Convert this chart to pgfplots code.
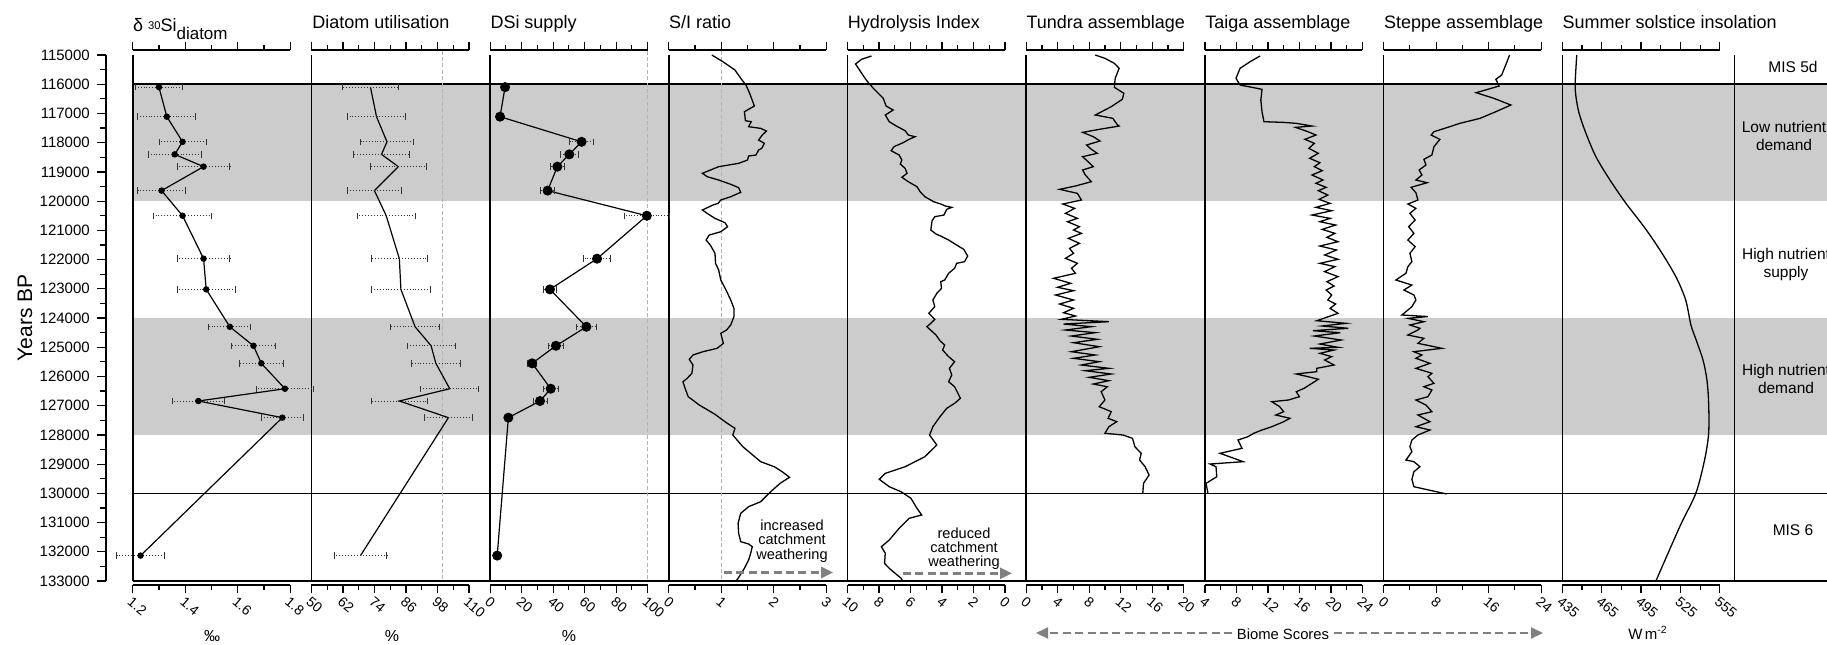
\documentclass[border=0pt]{standalone}
\usepackage{fontspec}
\setmainfont{Liberation Sans}
\usepackage{pgfplots}
\usepackage{pgfplotstable}
\pgfplotsset{compat=1.18}
\usetikzlibrary{arrows.meta}

\newcommand{\tf}{\fontsize{9}{10}\selectfont}
\newcommand{\tkf}{\fontsize{7.5}{8}\selectfont}
\newcommand{\xtkf}{\fontsize{7}{7.5}\selectfont}
\newcommand{\scalelines}{\draw[line width=0.8pt] (rel axis cs:0,0) -- (rel axis cs:1,0); \draw[line width=0.8pt] (rel axis cs:0,1) -- (rel axis cs:1,1);}

\tikzset{refline/.style={black!30, line width=0.5pt, dash pattern=on 2pt off 1.2pt}}
\pgfplotsset{
  every axis/.append style={/pgf/number format/assume math mode=true},
  panel/.style={
    scale only axis, width=78.75pt, height=267.5pt,
    ymin=114828.9, ymax=133136.9, y dir=reverse,
    anchor=south west, clip=false,
    scaled x ticks=false, scaled y ticks=false,
    axis line style={draw=none},
    ytick=\empty,
    xtick pos=both, xticklabel pos=lower,
    tick align=outside,
    major tick length=4.2pt, minor tick length=2.4pt,
    tick style={black, line width=0.6pt},
    xticklabel style={rotate=-40, anchor=north west, font=\xtkf, inner sep=0.8pt},
  },
  curve/.style={black, line width=0.65pt, mark=none},
}

% ---------------- data ----------------
\pgfplotstableread{
yr v e
116100 1.30 0.09
117110 1.33 0.11
117970 1.39 0.09
118400 1.36 0.10
118820 1.47 0.10
119640 1.31 0.09
120500 1.39 0.11
121970 1.47 0.10
123020 1.48 0.11
124300 1.57 0.08
124950 1.66 0.085
125550 1.69 0.083
126420 1.78 0.11
126840 1.45 0.10
127410 1.77 0.08
132130 1.23 0.09
}\siso

\pgfplotstableread{
yr v e
116100 72.5 10.5
117110 74.8 11
117970 78.8 10
118400 76.7 10.5
118820 83.1 10.6
119640 74.0 10.4
120500 78.5 11
121970 83.5 10.6
123020 84.1 11.3
124300 89.5 9.3
124950 95.6 9.2
125550 97.4 9.3
126420 102.7 11
126840 83.5 10.6
127410 102.2 9.2
132130 68.7 10
}\util

\pgfplotstableread{
yr v e
116100 9.5 0
117110 6.3 0
117970 58.1 7.5
118400 50.3 5.5
118820 42.7 4.5
119640 36.5 4.5
120500 99.5 14.5
121970 67.9 8.8
123020 38.0 4
124300 61.1 6.3
124950 41.8 4.5
125550 26.7 3
126420 38.5 4.8
126840 31.7 4.4
127410 11.6 0
132130 4.5 0
}\dsi

\pgfplotstableread{
yr v
115000 0.82
115229 1.03
115513 1.26
115797 1.37
116027 1.47
116311 1.54
116745 1.63
116940 1.44
117248 1.46
117282 1.57
117453 1.52
117510 1.75
117601 1.86
117738 1.78
117909 1.71
118023 1.82
118194 1.77
118251 1.71
118422 1.66
118456 1.52
118593 1.50
118707 1.33
118821 0.95
119048 0.64
119163 0.73
119278 0.95
119425 1.18
119539 1.33
119699 1.37
119848 1.18
119962 0.99
120076 0.94
120134 0.84
120304 0.64
120419 0.73
120590 0.88
120739 1.07
120876 1.12
121047 0.99
121160 0.77
121331 0.71
121502 0.79
121786 0.88
122128 0.89
122357 0.95
122700 0.99
123042 1.09
123384 1.18
123668 1.24
123955 1.24
124239 1.18
124410 1.10
124524 0.99
124866 1.04
125037 0.92
125153 0.65
125266 0.46
125414 0.39
125608 0.46
125893 0.44
126064 0.35
126180 0.27
126405 0.31
126693 0.37
126977 0.58
127295 0.88
127549 1.07
127775 1.26
128004 1.22
128404 1.41
128917 1.75
129089 2.01
129260 2.16
129451 2.30
129657 2.12
129944 1.94
130286 1.75
130457 1.52
130683 1.37
131025 1.32
131368 1.33
131653 1.37
131733 1.52
131825 1.59
132051 1.56
132281 1.52
132565 1.44
132907 1.32
133000 1.28
}\sitab

\pgfplotstableread{
yr v
115034 8.48
115148 9.11
115308 9.49
115513 9.24
115856 8.81
116140 8.36
116482 7.73
116745 7.55
116882 7.10
117053 7.60
117282 7.35
117430 6.90
117590 6.34
117738 6.14
117795 5.71
117885 6.09
118000 6.47
118137 7.05
118274 7.23
118422 6.72
118593 6.55
118730 6.65
118878 6.34
119048 6.22
119185 6.55
119335 6.14
119506 5.59
119677 5.39
119848 5.09
120020 4.53
120099 4.08
120167 3.78
120213 3.38
120281 3.70
120476 3.88
120533 4.46
120670 4.63
120989 4.71
121126 4.38
121194 4.08
121331 3.58
121502 3.07
121650 2.62
121878 2.37
122073 2.57
122128 3.07
122299 3.20
122470 3.58
122700 3.83
122757 4.08
122984 4.03
123155 4.33
123384 4.58
123612 4.46
123840 4.84
124045 4.46
124182 4.71
124297 4.96
124582 4.38
124776 4.13
124924 3.83
125095 3.96
125323 3.58
125494 3.20
125722 3.53
125950 3.38
126180 3.58
126351 3.20
126748 2.83
126919 3.20
127090 3.70
127377 4.13
127719 4.58
128004 4.79
128346 4.33
128746 5.09
129089 6.34
129315 7.60
129520 7.98
129773 7.35
129944 6.60
130170 5.97
130512 5.59
130741 5.29
130855 6.09
131197 6.72
131597 7.35
131825 7.85
132051 7.60
132394 7.65
132565 7.35
132907 6.60
133000 6.50
}\hitab

\pgfplotstableread{
yr v
115000 8.77
115114 10.0
115285 11.2
115456 11.8
115797 11.3
116106 11.2
116311 12.4
116516 12.2
116768 10.8
117053 8.77
117167 11.0
117361 11.5
117430 11.8
117544 9.27
117647 7.16
117795 8.52
117943 9.37
118080 7.66
118227 8.27
118364 9.02
118479 7.16
118627 7.76
118821 8.52
118935 7.16
119106 7.51
119335 8.27
119483 6.25
119597 4.24
119734 6.50
119962 7.01
120099 4.65
120247 6.15
120419 4.99
120590 6.50
120704 5.24
120876 6.76
120989 6.01
121103 7.01
121274 5.35
121445 6.76
121616 5.50
121786 6.01
121957 4.99
122128 6.50
122299 5.75
122470 6.25
122641 3.48
122813 5.65
122949 3.99
123065 6.01
123213 3.73
123384 6.01
123521 4.24
123668 6.01
123818 4.74
123931 6.25
124045 4.49
124126 10.5
124205 4.74
124297 8.27
124410 4.99
124502 8.77
124616 5.75
124729 9.02
124845 6.01
124982 9.27
125153 5.75
125266 8.77
125379 6.01
125494 9.27
125608 7.01
125722 10.5
125803 7.51
125916 10.8
126029 8.01
126146 10.5
126259 8.52
126351 10.3
126522 9.52
126806 10.0
127035 9.27
127206 10.8
127432 10.4
127549 11.5
127719 10.5
127945 10.0
128004 12.3
128117 13.5
128404 13.8
128630 14.6
128859 14.4
129089 15.1
129373 15.6
129657 14.9
130000 14.8
}\tundra

\pgfplotstableread{
yr v
115034 11.0
115229 9.73
115456 8.46
115797 7.95
116027 8.46
116106 9.98
116174 11.25
116540 11.1
116940 11.25
117282 11.5
117305 14.0
117339 15.6
117430 17.6
117476 15.5
117625 17.1
117738 18.1
117885 16.7
118023 17.9
118194 17.2
118364 18.4
118535 17.3
118685 18.6
118821 17.9
118958 18.9
119106 17.6
119278 19.0
119391 18.1
119528 19.4
119643 18.4
119791 19.6
119939 18.5
120076 19.9
120213 18.1
120328 20.1
120476 17.6
120590 19.9
120704 18.6
120818 20.6
120966 18.9
121103 20.5
121240 19.5
121389 20.9
121536 18.6
121673 20.7
121844 19.2
121991 20.9
122128 18.6
122242 20.5
122413 19.2
122584 20.9
122757 19.5
122905 20.4
123042 19.4
123213 20.1
123384 19.6
123521 20.6
123668 19.9
123840 20.9
124093 18.2
124182 21.9
124273 18.9
124352 22.2
124434 17.7
124502 21.2
124616 17.9
124753 21.3
124890 18.6
125003 20.9
125037 17.3
125095 20.4
125208 18.6
125323 20.1
125437 19.2
125608 20.4
125722 18.2
125837 18.2
125893 16.3
125916 15.6
126008 17.1
126097 18.4
126234 17.6
126405 16.6
126522 15.6
126693 16.0
126806 14.6
126864 12.5
127035 13.5
127206 14.0
127319 13.0
127432 14.8
127549 14.0
127719 12.5
127832 11.25
127945 10.2
128061 9.47
128175 8.20
128459 8.71
128630 5.92
128917 8.86
128996 4.65
129089 5.41
129431 5.51
129657 4.14
130000 4.39
}\taiga

\pgfplotstableread{
yr v
115000 19.2
115342 18.6
115684 18.0
115831 17.1
116061 17.6
116290 14.1
116482 16.8
116711 19.4
116940 17.1
117167 14.7
117339 11.6
117430 10.4
117625 7.67
117738 7.24
117885 8.58
118137 7.67
118422 7.36
118569 6.14
118764 6.45
118935 5.41
119106 5.84
119278 4.92
119370 6.63
119528 4.19
119712 4.92
119962 5.23
120099 3.70
120247 4.92
120419 4.01
120646 4.80
120876 3.82
121103 4.62
121331 3.70
121559 4.80
121786 4.01
122073 4.31
122242 3.70
122470 3.40
122700 1.87
122871 4.31
123042 3.09
123213 4.62
123384 4.92
123612 4.31
123897 2.79
123950 6.75
124011 3.70
124126 6.14
124239 4.01
124352 5.53
124410 5.23
124582 3.70
124695 6.14
124866 5.23
125037 8.88
125153 4.62
125266 5.84
125379 4.92
125550 7.06
125722 4.92
125893 7.36
126008 6.75
126234 7.67
126351 6.14
126464 7.36
126693 6.75
126806 4.92
126977 6.45
127206 7.36
127319 5.23
127549 7.06
127719 4.92
127832 7.06
128004 5.23
128175 4.31
128404 4.01
128575 4.31
128859 3.40
128917 4.62
129089 5.53
129260 4.62
129520 4.31
129773 4.62
130023 9.62
}\steppe

\pgfplotstableread{
yr v
115000 446.0
115969 444.8
116427 445.4
116997 447.8
117679 453.0
118480 460.6
119278 471.3
120076 483.5
120876 497.2
121673 509.4
122584 521.5
123384 529.0
124240 533.0
124753 537.0
125437 542.2
126122 545.2
126919 546.5
127945 546.5
128859 543.4
129999 536.7
131140 524.5
133000 506.3
}\insol

\begin{document}
\begin{tikzpicture}
% ---------- background decorations (coordinates in reference pixels) ----------
\begin{scope}[x=0.5pt, y=-0.5pt]
  \fill[black!20] (132.7,84.2) rectangle (1827,201.1);
  \fill[black!20] (132.7,318.0) rectangle (1827,434.9);
  \draw[line width=0.8pt] (132.7,84.2) -- (1827,84.2);
  \draw[line width=0.8pt] (132.7,493.3) -- (1827,493.3);
  \draw[line width=0.8pt] (132.7,581) -- (1827,581);
  \foreach \xx in {132.7,311.4,490.1,668.8,847.5,1026.2,1204.9,1383.6,1562.3,1734.5}
    \draw[line width=0.8pt] (\xx,55) -- (\xx,581);
\end{scope}

% ---------- Years BP axis ----------
\begin{axis}[scale only axis, width=1pt, height=263pt, at={(53pt,-290.5pt)}, anchor=south west,
  xmin=0, xmax=1, ymin=115000, ymax=133000, y dir=reverse,
  scaled x ticks=false, scaled y ticks=false,
  hide x axis, axis y line*=left, y axis line style={-, line width=0.8pt},
  ytick={115000,116000,117000,118000,119000,120000,121000,122000,123000,124000,125000,126000,127000,128000,129000,130000,131000,132000,133000},
  yticklabels={115000,116000,117000,118000,119000,120000,121000,122000,123000,124000,125000,126000,127000,128000,129000,130000,131000,132000,133000},
  minor ytick={115500,116500,117500,118500,119500,120500,121500,122500,123500,124500,125500,126500,127500,128500,129500,130500,131500,132500},
  tick align=outside, major tick length=4.6pt, minor tick length=3pt,
  tick style={black, line width=0.6pt},
  yticklabel style={font=\tkf}]
\end{axis}

% ---------- panel 1: d30Si ----------
\begin{axis}[panel, at={(66.35pt,-292.5pt)}, xmin=1.2, xmax=1.8,
  xtick={1.2,1.4,1.6,1.8}, xticklabels={1.2,1.4,1.6,1.8}, minor xtick={1.3,1.5,1.7}]
  \scalelines
  \addplot[black, line width=0.6pt, mark=*, mark size=1.3pt,
    error bars/.cd, x dir=both, x explicit,
    error bar style={black!80, line width=0.45pt, densely dotted},
    error mark=|, error mark options={black!80, line width=0.45pt, mark size=1.6pt, solid}]
    table[x=v, y=yr, x error=e] {\siso};
\end{axis}

% ---------- panel 2: Diatom utilisation ----------
\begin{axis}[panel, at={(155.7pt,-292.5pt)}, xmin=50, xmax=110,
  xtick={50,62,74,86,98,110}, xticklabels={50,62,74,86,98,110}, minor xtick={56,68,80,92,104}]
  \scalelines
  \draw[refline] (axis cs:100,114850) -- (axis cs:100,133000);
  \addplot[black, line width=0.6pt, mark=none,
    error bars/.cd, x dir=both, x explicit,
    error bar style={black!80, line width=0.45pt, densely dotted},
    error mark=|, error mark options={black!80, line width=0.45pt, mark size=1.6pt, solid}]
    table[x=v, y=yr, x error=e] {\util};
\end{axis}

% ---------- panel 3: DSi supply ----------
\begin{axis}[panel, at={(245.05pt,-292.5pt)}, xmin=0, xmax=100,
  xtick={0,20,40,60,80,100}, xticklabels={0,20,40,60,80,100}, minor xtick={10,30,50,70,90}]
  \scalelines
  \draw[refline] (axis cs:100,114850) -- (axis cs:100,133000);
  \addplot[black, line width=0.6pt, mark=*, mark size=2.2pt,
    error bars/.cd, x dir=both, x explicit,
    error bar style={black!80, line width=0.45pt, densely dotted},
    error mark=|, error mark options={black!80, line width=0.45pt, mark size=1.6pt, solid}]
    table[x=v, y=yr, x error=e] {\dsi};
\end{axis}

% ---------- panel 4: S/I ratio ----------
\begin{axis}[panel, at={(334.4pt,-292.5pt)}, xmin=0, xmax=3,
  xtick={0,1,2,3}, xticklabels={0,1,2,3}, minor xtick={0.5,1.5,2.5}]
  \scalelines
  \draw[refline] (axis cs:1,114850) -- (axis cs:1,133000);
  \addplot[curve] table[x=v, y=yr] {\sitab};
\end{axis}

% ---------- panel 5: Hydrolysis index ----------
\begin{axis}[panel, at={(423.75pt,-292.5pt)}, xmin=0, xmax=10, x dir=reverse,
  xtick={0,2,4,6,8,10}, xticklabels={0,2,4,6,8,10}, minor xtick={1,3,5,7,9}]
  \scalelines
  \addplot[curve] table[x=v, y=yr] {\hitab};
\end{axis}

% ---------- panel 6: Tundra ----------
\begin{axis}[panel, at={(513.1pt,-292.5pt)}, xmin=0, xmax=20,
  xtick={0,4,8,12,16,20}, xticklabels={0,4,8,12,16,20}, minor xtick={2,6,10,14,18}]
  \scalelines
  \addplot[curve] table[x=v, y=yr] {\tundra};
\end{axis}

% ---------- panel 7: Taiga ----------
\begin{axis}[panel, at={(602.45pt,-292.5pt)}, xmin=4, xmax=24,
  xtick={4,8,12,16,20,24}, xticklabels={4,8,12,16,20,24}, minor xtick={6,10,14,18,22}]
  \scalelines
  \addplot[curve] table[x=v, y=yr] {\taiga};
\end{axis}

% ---------- panel 8: Steppe ----------
\begin{axis}[panel, at={(691.8pt,-292.5pt)}, xmin=0, xmax=24,
  xtick={0,8,16,24}, xticklabels={0,8,16,24}, minor xtick={4,12,20}]
  \scalelines
  \addplot[curve] table[x=v, y=yr] {\steppe};
\end{axis}

% ---------- panel 9: Insolation ----------
\begin{axis}[panel, at={(781.15pt,-292.5pt)}, xmin=435, xmax=555,
  xtick={435,465,495,525,555}, xticklabels={435,465,495,525,555}, minor xtick={450,480,510,540}]
  \scalelines
  \addplot[curve, smooth] table[x=v, y=yr] {\insol};
\end{axis}

% ---------- texts ----------
\begin{scope}[x=0.5pt, y=-0.5pt]
  \node[anchor=base west, inner sep=0, font=\tf] at (132.7,31.7)
    {δ\hspace{2.5pt}\raisebox{1.2pt}{\fontsize{5.6}{6}\selectfont 30}Si\raisebox{-3.8pt}{\fontsize{8.5}{9}\selectfont diatom}};
  \node[anchor=base west, inner sep=0, font=\tf] at (311.9,28.3) {Diatom utilisation};
  \node[anchor=base west, inner sep=0, font=\tf] at (490.1,28.3) {DSi supply};
  \node[anchor=base west, inner sep=0, font=\tf] at (668.8,28.3) {S/I ratio};
  \node[anchor=base west, inner sep=0, font=\tf] at (847.5,28.3) {Hydrolysis Index};
  \node[anchor=base west, inner sep=0, font=\tf] at (1026.2,28.3) {Tundra assemblage};
  \node[anchor=base west, inner sep=0, font=\tf] at (1204.9,28.3) {Taiga assemblage};
  \node[anchor=base west, inner sep=0, font=\tf] at (1383.6,28.3) {Steppe assemblage};
  \node[anchor=base west, inner sep=0, font=\tf] at (1562.3,28.3) {Summer solstice insolation};

  \node[rotate=90, font=\fontsize{10.5}{12}\selectfont] at (25,318) {Years BP};

  \node[font=\fontsize{8}{9}\selectfont] at (212,636) {‰};
  \node[font=\fontsize{8}{9}\selectfont] at (392,636) {\%};
  \node[font=\fontsize{8}{9}\selectfont] at (569,636) {\%};
  \node[font=\fontsize{7.5}{9}\selectfont] at (1648,633) {W\,m\textsuperscript{-2}};

  \node[align=center, font=\fontsize{7.3}{7.2}\selectfont] at (792,541) {increased\\catchment\\weathering};
  \node[align=center, font=\fontsize{7.3}{7.2}\selectfont] at (964,548.7) {reduced\\catchment\\weathering};
  \draw[black!50, line width=1.3pt, dash pattern=on 4pt off 2.2pt, -{Triangle[length=6pt,width=5.5pt]}] (724,572.5) -- (833,572.5);
  \draw[black!50, line width=1.3pt, dash pattern=on 4pt off 2.2pt, -{Triangle[length=6pt,width=5.5pt]}] (903,573.3) -- (1012,573.3);

  \node[font=\fontsize{7.4}{9}\selectfont] (bs) at (1283,634) {Biome Scores};
  \draw[black!50, line width=1pt, dash pattern=on 4pt off 2.2pt, -{Triangle[length=6pt,width=5.5pt]}] (1232,633) -- (1036,633);
  \draw[black!50, line width=1pt, dash pattern=on 4pt off 2.2pt, -{Triangle[length=6pt,width=5.5pt]}] (1334,633) -- (1543,633);

  \node[font=\fontsize{7.75}{9}\selectfont] at (1793,67) {MIS 5d};
  \node[align=center, font=\fontsize{7.75}{9}\selectfont] at (1784,136) {Low nutrient\\demand};
  \node[align=center, font=\fontsize{7.75}{9}\selectfont] at (1786,264) {High nutrient\\supply};
  \node[align=center, font=\fontsize{7.75}{9}\selectfont] at (1786,379) {High nutrient\\demand};
  \node[font=\fontsize{7.75}{9}\selectfont] at (1793,530) {MIS 6};

  \pgfresetboundingbox
  \path[use as bounding box] (0,0) rectangle (1827,644);
\end{scope}
\end{tikzpicture}
\end{document}
